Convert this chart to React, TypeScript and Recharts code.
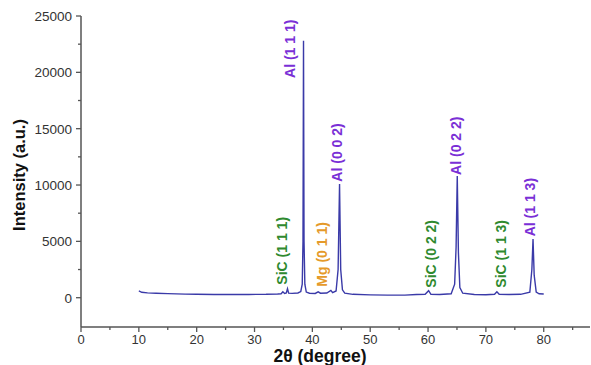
import { ComposedChart, Line, Scatter, XAxis, YAxis } from "recharts"

// 2θ (degree) and intensity (a.u.)
const twoTheta = [
  10.0, 10.5, 11.5, 13, 15, 18, 20, 23, 26, 29, 32, 34.0, 34.6, 34.9, 35.2, 35.5, 35.7, 35.9,
  36.5, 37.5, 38.0, 38.25, 38.38, 38.47, 38.56, 38.7, 38.95, 39.5, 40.5, 41.0, 41.4, 42.5,
  43.2, 43.5, 44.1, 44.45, 44.7, 44.9, 45.2, 45.6, 47, 50, 53, 56, 58, 59.5, 60.1, 60.5, 62,
  64.0, 64.6, 64.85, 65.05, 65.25, 65.5, 66, 68, 70, 71.5, 71.9, 72.3, 74, 76, 77.6, 77.95,
  78.15, 78.35, 78.7, 79.2, 80,
]
const intensity = [
  600, 480, 430, 400, 360, 320, 300, 290, 280, 290, 300, 330, 350, 520, 380, 420, 800, 400,
  380, 420, 550, 1200, 5000, 22800, 5000, 1200, 500, 400, 380, 520, 400, 420,
  650, 450, 600, 2500, 10100, 2500, 700, 400, 300, 250, 230, 230, 280, 300, 620, 300, 280,
  350, 1200, 4500, 10800, 4000, 900, 400, 280, 260, 300, 520, 300, 280, 300, 500, 2500,
  5200, 2000, 500, 350, 330,
]

// peak annotations: text, 2θ and intensity where the label starts
const peakLabels = ["Al (1 1 1)", "Al (0 0 2)", "Al (0 2 2)", "Al (1 1 3)", "SiC (1 1 1)", "Mg (0 1 1)", "SiC (0 2 2)", "SiC (1 1 3)"]
const peakLabelX = [36.2, 44.3, 64.8, 77.6, 34.75, 41.7, 60.5, 72.6]
const peakLabelY = [19500, 10300, 10900, 5450, 1160, 980, 890, 890]

const xTicks = [0, 5, 10, 15, 20, 25, 30, 35, 40, 45, 50, 55, 60, 65, 70, 75, 80, 85]
const yTicks = [-2500, 0, 2500, 5000, 7500, 10000, 12500, 15000, 17500, 20000, 22500, 25000]

const spectrum = twoTheta.map((x, i) => ({ x, y: intensity[i] }))
const labels = peakLabels.map((text, i) => ({ x: peakLabelX[i], y: peakLabelY[i], text }))

const phaseColor = (t: string) =>
  t.startsWith("Al") ? "#7a2fd6" : t.startsWith("Mg") ? "#e59a2a" : "#2f8a2f"

const AXIS = "#555"
const FONT = "'Liberation Sans', Arial, sans-serif"

function XTick(props: any) {
  const { x, y, payload } = props
  const major = payload.value % 10 === 0
  return (
    <g>
      <line x1={x} x2={x} y1={y} y2={y + (major ? 5 : 3)} stroke={AXIS} strokeWidth={1.3} />
      {major && (
        <text x={x} y={y + 17} textAnchor="middle" fontSize={13} fill="#333" fontFamily={FONT}>
          {payload.value}
        </text>
      )}
    </g>
  )
}

function YTick(props: any) {
  const { x, y, payload } = props
  const major = payload.value % 5000 === 0
  if (payload.value < 0) return <g />
  return (
    <g>
      <line x1={x - (major ? 5 : 3)} x2={x} y1={y} y2={y} stroke={AXIS} strokeWidth={1.3} />
      {major && (
        <text x={x - 9} y={y + 5} textAnchor="end" fontSize={13.5} fill="#333" fontFamily={FONT}>
          {payload.value}
        </text>
      )}
    </g>
  )
}

function PeakLabel(props: any) {
  const { cx, cy, payload } = props
  return (
    <text
      x={cx}
      y={cy}
      dy="0.36em"
      transform={`rotate(-90 ${cx} ${cy})`}
      fontSize={14}
      fontWeight="bold"
      fontFamily={FONT}
      fill={phaseColor(payload.text)}
    >
      {payload.text}
    </text>
  )
}

export default function App() {
  return (
    <div style={{ width: 591, height: 365, position: "relative", background: "#fff" }}>
      <style>{`body{margin:0}`}</style>
      <ComposedChart width={591} height={365} margin={{ top: 16, right: 1, left: 0, bottom: 0 }}>
        <XAxis
          type="number"
          dataKey="x"
          domain={[0, 88]}
          ticks={xTicks}
          allowDataOverflow
          height={38}
          tickSize={0}
          tickMargin={0}
          tickLine={false}
          tick={<XTick />}
          axisLine={{ stroke: AXIS, strokeWidth: 1.5 }}
        />
        <YAxis
          type="number"
          dataKey="y"
          domain={[-2600, 25000]}
          ticks={yTicks}
          allowDataOverflow
          width={81}
          tickSize={0}
          tickMargin={0}
          tickLine={false}
          tick={<YTick />}
          axisLine={{ stroke: AXIS, strokeWidth: 1.5 }}
        />
        <Line
          data={spectrum}
          dataKey="y"
          type="linear"
          stroke="#3a3aa8"
          strokeWidth={1.4}
          dot={false}
          isAnimationActive={false}
        />
        <Scatter data={labels} dataKey="y" shape={<PeakLabel />} isAnimationActive={false} />
      </ComposedChart>
      <div
        style={{
          position: "absolute",
          left: 19,
          top: 175,
          transform: "translate(-50%, -50%) rotate(-90deg)",
          fontFamily: FONT,
          fontWeight: "bold",
          fontSize: 16.5,
          lineHeight: "17px",
          whiteSpace: "nowrap",
          color: "#111",
        }}
      >
        Intensity (a.u.)
      </div>
      <div
        style={{
          position: "absolute",
          left: 320,
          top: 356,
          transform: "translate(-50%, -50%)",
          fontFamily: FONT,
          fontWeight: "bold",
          fontSize: 17.5,
          lineHeight: "17px",
          whiteSpace: "nowrap",
          color: "#111",
        }}
      >
        2θ (degree)
      </div>
    </div>
  )
}
